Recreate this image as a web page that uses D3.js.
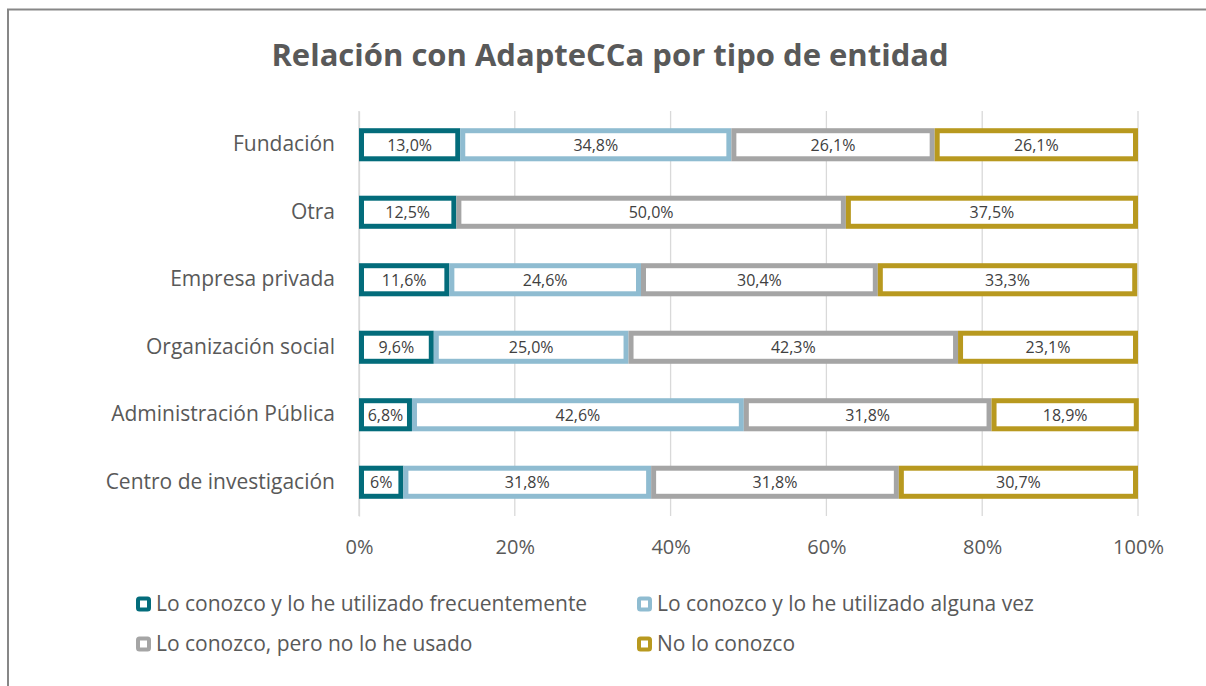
<!DOCTYPE html>
<html><head><meta charset="utf-8">
<script src="https://cdn.jsdelivr.net/npm/d3@7"></script>
<style>body{margin:0;background:#fff}svg{display:block;font-family:"Open Sans",sans-serif}</style>
</head><body><svg id="c" width="1206" height="686"></svg>
<script>
const categories = ["Fundación","Otra","Empresa privada","Organización social","Administración Pública","Centro de investigación"];
const seriesNames = ["Lo conozco y lo he utilizado frecuentemente","Lo conozco y lo he utilizado alguna vez","Lo conozco, pero no lo he usado","No lo conozco"];
const seriesColors = ["#036c7b","#8fbcd1","#a5a5a5","#b8991f"];
const frecuente = [13.0,12.5,11.6,9.6,6.8,5.7];
const algunaVez = [34.8,0,24.6,25.0,42.6,31.8];
const noUsado   = [26.1,50.0,30.4,42.3,31.8,31.8];
const noConozco = [26.1,37.5,33.3,23.1,18.9,30.7];
const frecuenteLabels = ["13,0%","12,5%","11,6%","9,6%","6,8%","6%"];
const algunaVezLabels = ["34,8%","","24,6%","25,0%","42,6%","31,8%"];
const noUsadoLabels   = ["26,1%","50,0%","30,4%","42,3%","31,8%","31,8%"];
const noConozcoLabels = ["26,1%","37,5%","33,3%","23,1%","18,9%","30,7%"];
const xTicks = [0,20,40,60,80,100];
const title = "Relación con AdapteCCa por tipo de entidad";

const series = [frecuente, algunaVez, noUsado, noConozco];
const labels = [frecuenteLabels, algunaVezLabels, noUsadoLabels, noConozcoLabels];

const svg = d3.select("#c");
svg.append("rect").attr("x",8).attr("y",9.5).attr("width",1300).attr("height",800)
  .attr("fill","none").attr("stroke","#878787").attr("stroke-width",2);

svg.append("text").attr("x",610).attr("y",66).attr("text-anchor","middle")
  .attr("font-size",31).attr("font-weight","bold").attr("fill","#595959").text(title);

const x = d3.scaleLinear().domain([0,100]).range([359,1138]);
const y = d3.scaleBand().domain(categories).range([111,516]).paddingInner(0.51).paddingOuter(0.255);

// gridlines
svg.append("g").selectAll("line").data(xTicks).join("line")
  .attr("x1",d=>x(d)).attr("x2",d=>x(d)).attr("y1",111).attr("y2",516)
  .attr("stroke","#d9d9d9").attr("stroke-width",1.3);

const xa = svg.append("g").attr("transform","translate(0,516)")
  .call(d3.axisBottom(x).tickValues(xTicks).tickFormat(d=>d+"%").tickSize(0).tickPadding(24));
xa.select(".domain").remove();
xa.selectAll("text").attr("font-size",20).attr("fill","#595959").attr("font-family","Open Sans");

const ya = svg.append("g").attr("transform","translate(359,0)")
  .call(d3.axisLeft(y).tickSize(0).tickPadding(24));
ya.select(".domain").attr("stroke","#d9d9d9").attr("stroke-width",1.3);
ya.selectAll("text").attr("font-size",21).attr("fill","#595959").attr("font-family","Open Sans");

// stacks
const sw = 5;
const g = svg.append("g");
categories.forEach((c,i)=>{
  let acc = 0;
  series.forEach((s,k)=>{
    const v = s[i];
    const x0 = acc, x1 = acc+v; acc = x1;
    if(v<=0) return;
    g.append("rect")
      .attr("x",x(x0)+sw/2).attr("y",y(c)+sw/2)
      .attr("width",x(x1)-x(x0)-sw).attr("height",y.bandwidth()-sw)
      .attr("fill","#fff").attr("stroke",seriesColors[k]).attr("stroke-width",sw);
  });
});
categories.forEach((c,i)=>{
  let acc = 0;
  series.forEach((s,k)=>{
    const v = s[i];
    const x0 = acc, x1 = acc+v; acc = x1;
    if(v<=0) return;
    g.append("text").attr("x",(x(x0)+x(x1))/2).attr("y",y(c)+y.bandwidth()/2)
      .attr("dy","0.36em").attr("text-anchor","middle").attr("font-size",16)
      .attr("fill","#404040").text(labels[k][i]);
  });
});

// legend
const legPos = [[136,604],[637,604],[136,644],[637,644]];
const lg = svg.append("g");
seriesNames.forEach((n,k)=>{
  const [lx,ly] = legPos[k];
  lg.append("rect").attr("x",lx+2).attr("y",ly-7.5+2).attr("width",11).attr("height",11)
    .attr("rx",1.5).attr("fill","#fff").attr("stroke",seriesColors[k]).attr("stroke-width",4);
  lg.append("text").attr("x",lx+20).attr("y",ly).attr("dy","0.35em")
    .attr("font-size",21).attr("fill","#595959").text(n);
});
</script></body></html>
